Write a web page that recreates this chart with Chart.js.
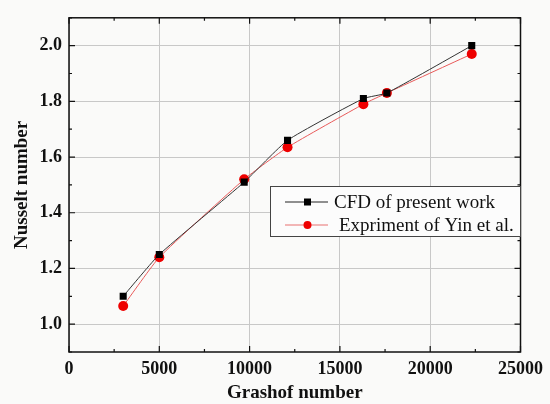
<!DOCTYPE html>
<html>
<head>
<meta charset="utf-8">
<script src="https://cdn.jsdelivr.net/npm/chart.js@4.4.0/dist/chart.umd.min.js"></script>
<style>
  html, body { margin: 0; padding: 0; background: #fafaf9; }
  #wrap { width: 550px; height: 404px; }
</style>
</head>
<body>
<div id="wrap"><canvas id="grafico"></canvas></div>
<script>
// dados
const grashof = [3000, 5000, 9700, 12100, 16300, 17600, 22300];
const nusseltCFD = [1.10, 1.25, 1.51, 1.66, 1.81, 1.83, 2.00];
const nusseltExp = [1.065, 1.24, 1.52, 1.635, 1.79, 1.83, 1.97];
const xTicks = [0, 5000, 10000, 15000, 20000, 25000];
const yTicks = [1.0, 1.2, 1.4, 1.6, 1.8, 2.0];
const legendLabels = ['CFD of present work', 'Expriment of Yin et al.'];

const serif = '"Liberation Serif", "Times New Roman", serif';

function pontos(ys) {
    return grashof.map((x, i) => ({ x: x, y: ys[i] }));
}

// moldura, ticks para dentro e legenda
const molduraPlugin = {
    id: 'moldura',
    afterDraw(chart) {
        const ctx = chart.ctx;
        const a = chart.chartArea;
        const xs = chart.scales.x, ys = chart.scales.y;
        ctx.save();
        ctx.strokeStyle = '#111';
        ctx.lineWidth = 1.2;
        // ticks x (major e minor)
        for (let i = 0; i < xTicks.length; i++) {
            const px = xs.getPixelForValue(xTicks[i]);
            ctx.beginPath();
            ctx.moveTo(px, a.bottom); ctx.lineTo(px, a.bottom - 6);
            ctx.moveTo(px, a.top); ctx.lineTo(px, a.top + 6);
            ctx.stroke();
            if (i < xTicks.length - 1) {
                const pm = xs.getPixelForValue((xTicks[i] + xTicks[i + 1]) / 2);
                ctx.beginPath();
                ctx.moveTo(pm, a.bottom); ctx.lineTo(pm, a.bottom - 3);
                ctx.moveTo(pm, a.top); ctx.lineTo(pm, a.top + 3);
                ctx.stroke();
            }
        }
        // ticks y
        const yMinor = [0.9].concat(yTicks.map(v => v + 0.1));
        yTicks.forEach(v => {
            const py = ys.getPixelForValue(v);
            ctx.beginPath();
            ctx.moveTo(a.left, py); ctx.lineTo(a.left + 6, py);
            ctx.moveTo(a.right, py); ctx.lineTo(a.right - 6, py);
            ctx.stroke();
        });
        yMinor.forEach(v => {
            const py = ys.getPixelForValue(v);
            ctx.beginPath();
            ctx.moveTo(a.left, py); ctx.lineTo(a.left + 3, py);
            ctx.moveTo(a.right, py); ctx.lineTo(a.right - 3, py);
            ctx.stroke();
        });
        // moldura
        ctx.lineWidth = 1.5;
        ctx.strokeRect(a.left, a.top, a.right - a.left, a.bottom - a.top);

        // legenda
        const lx = 270, ly = 186, lw = 250, lh = 50;
        ctx.fillStyle = '#fcfcfc';
        ctx.fillRect(lx, ly, lw, lh);
        ctx.lineWidth = 1;
        ctx.strokeStyle = '#444';
        ctx.strokeRect(lx + 0.5, ly + 0.5, lw, lh);
        const linhas = [
            { y: 202, cor: '#222', marca: 'quadrado', tx: 334 },
            { y: 225, cor: '#e87070', marca: 'circulo', tx: 339 }
        ];
        ctx.font = '19px ' + serif;
        ctx.textBaseline = 'middle';
        linhas.forEach((l, i) => {
            ctx.strokeStyle = l.cor;
            ctx.beginPath();
            ctx.moveTo(285, l.y); ctx.lineTo(328, l.y);
            ctx.stroke();
            if (l.marca === 'quadrado') {
                ctx.fillStyle = '#000';
                ctx.fillRect(304, l.y - 3.5, 7, 7);
            } else {
                ctx.fillStyle = '#ee0000';
                ctx.beginPath();
                ctx.arc(307.5, l.y, 4, 0, Math.PI * 2);
                ctx.fill();
            }
            ctx.fillStyle = '#111';
            ctx.fillText(legendLabels[i], l.tx, l.y + 1);
        });
        ctx.restore();
    }
};

const config = {
    type: 'line',
    data: {
        datasets: [
            {
                label: legendLabels[0],
                data: pontos(nusseltCFD),
                borderColor: '#333',
                borderWidth: 1,
                backgroundColor: '#000',
                pointStyle: 'rect',
                pointRadius: 5,
                pointBorderWidth: 0,
                tension: 0.15
            },
            {
                label: legendLabels[1],
                data: pontos(nusseltExp),
                borderColor: '#e85a5a',
                borderWidth: 1,
                backgroundColor: '#ee0000',
                pointStyle: 'circle',
                pointRadius: 5,
                pointBorderWidth: 0,
                tension: 0.15
            }
        ]
    },
    options: {
        responsive: true,
        maintainAspectRatio: false,
        animation: false,
        layout: { padding: { top: 11, right: 24, left: 0, bottom: 0 } },
        plugins: {
            legend: { display: false },
            tooltip: { enabled: false }
        },
        scales: {
            x: {
                type: 'linear',
                min: 0,
                max: 25000,
                afterBuildTicks: s => { s.ticks = xTicks.map(v => ({ value: v })); },
                afterFit: s => { s.height = 52; },
                grid: { color: '#c8c8c8', lineWidth: 1, drawTicks: false },
                border: { display: false },
                ticks: {
                    padding: 7,
                    color: '#111',
                    maxRotation: 0,
                    font: { family: serif, size: 18, weight: 'bold' },
                    callback: v => String(v)
                },
                title: {
                    display: true,
                    text: 'Grashof number',
                    color: '#111',
                    font: { family: serif, size: 19, weight: 'bold' },
                    padding: { top: 0, bottom: 0 }
                }
            },
            y: {
                type: 'linear',
                min: 0.9,
                max: 2.1,
                afterBuildTicks: s => { s.ticks = yTicks.map(v => ({ value: v })); },
                afterFit: s => { s.width = 69; },
                grid: { color: '#c8c8c8', lineWidth: 1, drawTicks: false },
                border: { display: false },
                ticks: {
                    padding: 7,
                    color: '#111',
                    font: { family: serif, size: 18, weight: 'bold' },
                    callback: v => Number(v).toFixed(1)
                },
                title: {
                    display: true,
                    text: 'Nusselt number',
                    color: '#111',
                    font: { family: serif, size: 19, weight: 'bold' },
                    padding: { top: 11, bottom: 0 }
                }
            }
        }
    },
    plugins: [molduraPlugin]
};

new Chart(document.getElementById('grafico'), config);
</script>
</body>
</html>
